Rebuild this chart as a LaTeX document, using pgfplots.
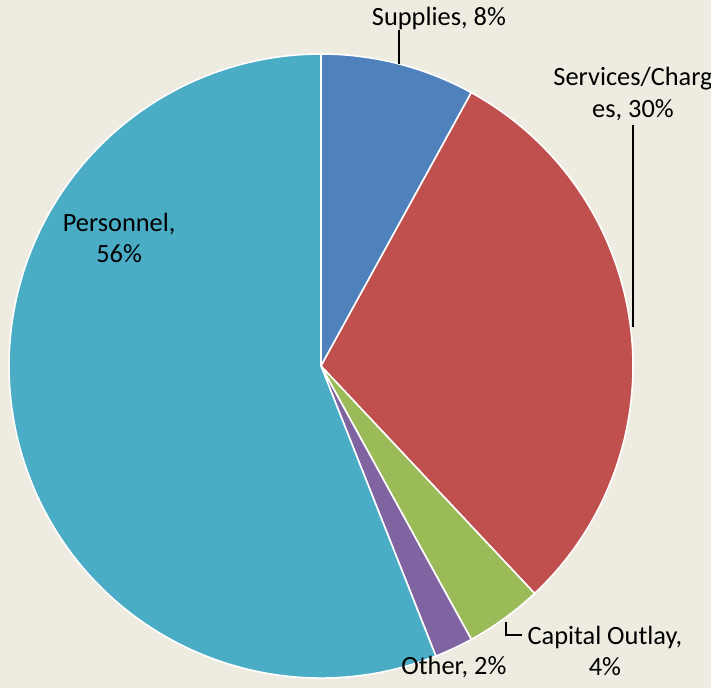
\documentclass[border=0pt]{standalone}
\usepackage{fontspec}
\setmainfont{Carlito}
\usepackage{pgfplots}
\usepackage{pgfplotstable}
\pgfplotsset{compat=1.18}

\definecolor{bgcol}{HTML}{EEECE1}
\definecolor{csup}{HTML}{4F81BD}
\definecolor{cser}{HTML}{C0504D}
\definecolor{ccap}{HTML}{9BBB59}
\definecolor{coth}{HTML}{8064A2}
\definecolor{cper}{HTML}{4BACC6}

% share of the budget, in percent, clockwise from 12 o'clock
\pgfplotstableread{
label    value colour
Supplies 8     csup
Services 30    cser
Capital  4     ccap
Other    2     coth
Personnel 56   cper
}\piedata

\begin{document}
\begin{tikzpicture}[font=\fontsize{15}{18}\selectfont]
\begin{axis}[
    x=6.24cm, y=6.24cm,
    xmin=-1.0288, xmax=1.25,
    ymin=-1.032, ymax=1.1731,
    hide axis,
]
\fill[bgcol] (rel axis cs:0,0) rectangle (rel axis cs:1,1);
\coordinate (sw) at (rel axis cs:0,0);
\coordinate (ne) at (rel axis cs:1,1);

\def\cumangle{90}
\pgfplotsforeachungrouped \i in {0,...,4}{
  \pgfplotstablegetelem{\i}{value}\of\piedata \let\val\pgfplotsretval
  \pgfplotstablegetelem{\i}{colour}\of\piedata \let\col\pgfplotsretval
  \pgfmathsetmacro\endangle{\cumangle-3.6*\val}
  \edef\temp{\noexpand\filldraw[fill=\col, draw=white, line width=0.9pt]
    (axis cs:0,0) -- ++(\cumangle:6.24cm)
    arc[start angle=\cumangle, end angle=\endangle, radius=6.24cm] -- cycle;}
  \temp
  \global\let\cumangle\endangle
}

% labels and leader lines
\node at (axis cs:0.378,1.115) {Supplies, 8\%};
\draw[line width=0.85pt] (axis cs:0.25,1.077) -- (axis cs:0.25,0.968);
\node[align=center] at (axis cs:1.0,0.872) {Services/Charg\\es, 30\%};
\draw[line width=0.85pt] (axis cs:1.0,0.772) -- (axis cs:1.0,0.125);
\node[align=center] at (axis cs:0.910,-0.913) {Capital Outlay,\\4\%};
\draw[line width=0.85pt] (axis cs:0.593,-0.821) -- (axis cs:0.593,-0.862) -- (axis cs:0.644,-0.862);
\node at (axis cs:0.426,-0.965) {Other, 2\%};
\node[align=center] at (axis cs:-0.647,0.410) {Personnel,\\56\%};
\end{axis}
\pgfresetboundingbox
\useasboundingbox (sw) rectangle (ne);
\end{tikzpicture}
\end{document}
